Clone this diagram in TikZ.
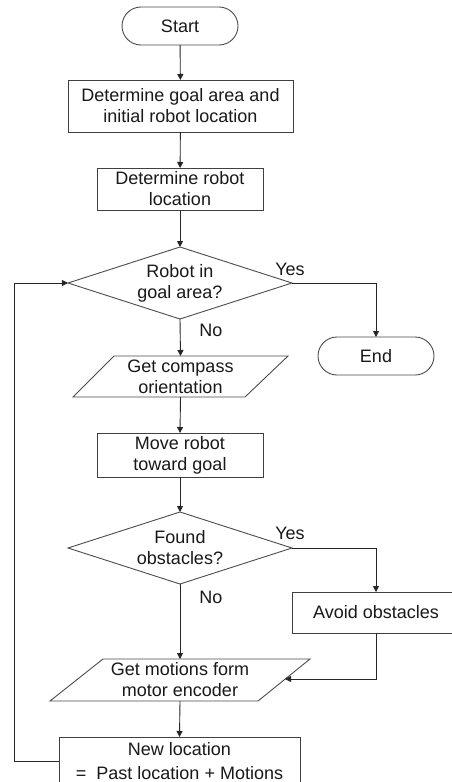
\documentclass[tikz,border=0pt]{standalone}
\usepackage{fontspec}
\setmainfont{Liberation Sans}
\usetikzlibrary{shapes.geometric,arrows.meta,calc}
\begin{document}
\begin{tikzpicture}[x=1bp,y=-1bp,
  base/.style={font=\fontsize{18bp}{21bp}\selectfont, align=center, inner sep=0pt, outer sep=0pt, text=black!90},
  term/.style={base, draw=black!70, line width=0.9bp, rounded corners=19bp, minimum width=116bp, minimum height=38bp},
  proc/.style={base, draw=black!75, line width=0.9bp},
  dec/.style={base, draw=black!70, line width=0.9bp, diamond, aspect=3.1, minimum width=224bp, minimum height=72bp},
  io/.style={base},
  ioshape/.style={draw=black!70, line width=0.9bp},
  lbl/.style={font=\fontsize{18bp}{21bp}\selectfont, inner sep=0pt, text=black!90},
  conn/.style={draw=black!85, line width=0.9bp, -{Triangle[length=6bp,width=6bp]}},
]
\useasboundingbox (0,0) rectangle (452,782);
\fill[white] (0,0) rectangle (452,782);

% nodes
\node[term] (start) at (180,26) {Start};
\node[proc, minimum width=225bp, minimum height=52bp] (b1) at (180.5,106) {Determine goal area and\\initial robot location};
\node[proc, minimum width=166bp, minimum height=42bp] (b2) at (180,189) {Determine robot\\location};
\node[dec] (d1) at (180,283) {Robot in\\goal area?};
\node[term] (end) at (376,356) {End};

\draw[ioshape] (73,397) -- (245,397) -- (288,356) -- (114,356) -- cycle;
\node[io, minimum width=174bp, minimum height=41bp] (p1) at (180.5,376.5) {Get compass\\orientation};

\node[proc, minimum width=166bp, minimum height=44bp] (b3) at (180,455) {Move robot\\toward goal};
\node[dec] (d2) at (180,548) {Found\\obstacles?};
\node[proc, minimum width=168bp, minimum height=41bp] (avoid) at (376,612.5) {Avoid obstacles};

\draw[ioshape] (50,701) -- (258,701) -- (310,659) -- (103,659) -- cycle;
\node[io, minimum width=207bp, minimum height=42bp] (p2) at (180,680) {Get motions form\\motor encoder};
\coordinate (p2in) at (285,679);

\node[proc, minimum width=241bp, minimum height=48bp] (b4) at (179.5,761) {New location\\[3bp]=\ \ Past location + Motions};

% labels
\node[lbl] (yes1) at (290,269) {Yes};
\node[lbl] (no1) at (211,330) {No};
\node[lbl] (yes2) at (290,533) {Yes};
\node[lbl] (no2) at (211,597) {No};

% connectors
\draw[conn] (start) -- (b1);
\draw[conn] (b1) -- (b2);
\draw[conn] (b2) -- (d1);
\draw[conn] (d1.south) -- (p1.north);
\draw[conn] (d1.east) -| (end.north);
\draw[conn] (p1.south) -- (b3.north);
\draw[conn] (b3) -- (d2);
\draw[conn] (d2.south) -- (p2.north);
\draw[conn] (d2.east) -| (avoid.north);
\draw[conn] (avoid.south) |- (p2in);
\draw[conn] (p2.south) -- (b4.north);
\draw[conn] (b4.west) -- ++(-45,0) |- (d1.west);
\end{tikzpicture}
\end{document}
